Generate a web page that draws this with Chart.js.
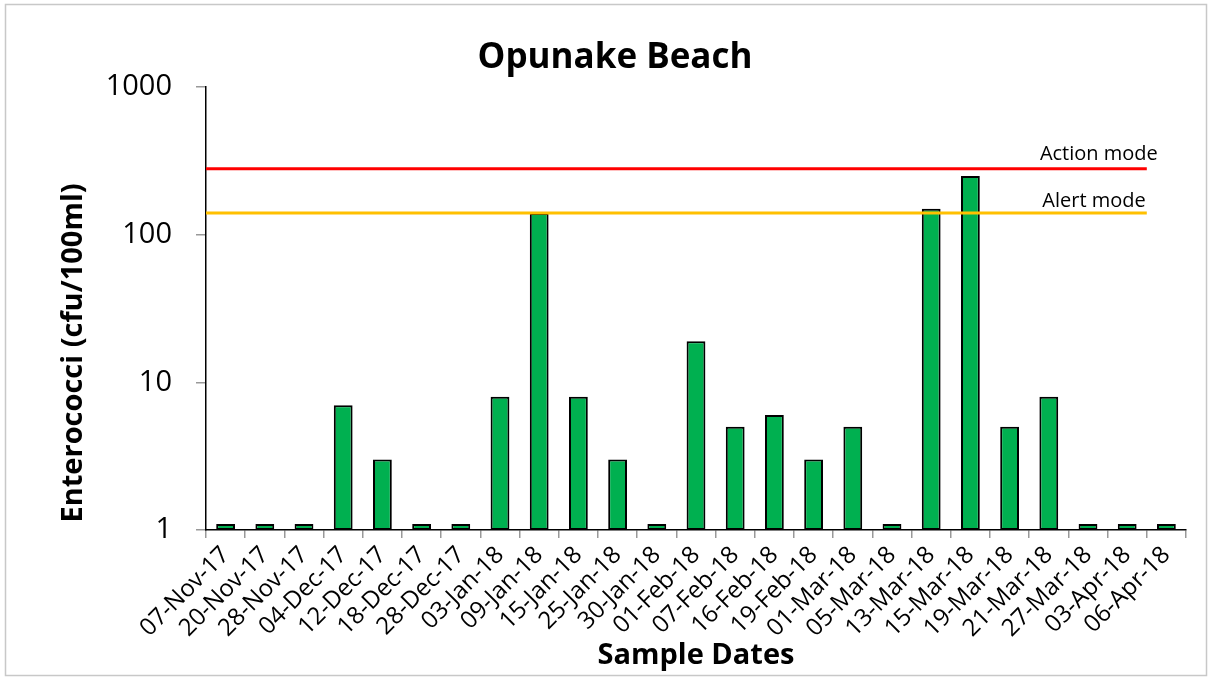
<!DOCTYPE html>
<html><head><meta charset="utf-8">
<script src="https://cdn.jsdelivr.net/npm/chart.js@4.4.1/dist/chart.umd.min.js"></script>
<style>html,body{margin:0;padding:0;background:#fff;} #wrap{position:relative;width:1212px;height:678px;}</style>
</head><body><div id="wrap"><canvas id="c" width="1212" height="678"></canvas></div>
<script>
const categories = ['07-Nov-17','20-Nov-17','28-Nov-17','04-Dec-17','12-Dec-17','18-Dec-17','28-Dec-17','03-Jan-18','09-Jan-18','15-Jan-18','25-Jan-18','30-Jan-18','01-Feb-18','07-Feb-18','16-Feb-18','19-Feb-18','01-Mar-18','05-Mar-18','13-Mar-18','15-Mar-18','19-Mar-18','21-Mar-18','27-Mar-18','03-Apr-18','06-Apr-18'];
const enterococci = [1.1,1.1,1.1,7,3,1.1,1.1,8,140,8,3,1.1,19,5,6,3,5,1.1,150,250,5,8,1.1,1.1,1.1];
const yTickValues = [1,10,100,1000];
const thresholdValues = [280,140];
const thresholdNames = ['Action mode','Alert mode'];

const FONT = '"Open Sans", "Noto Sans", sans-serif';
const thresholdStyle = {colors:['#FF0000','#FFC000'], labelDx:[11,-1], labelDy:[-14,-12]};

const extras = {
  id:'extras',
  beforeDraw(chart){
    const ctx = chart.ctx;
    ctx.save(); ctx.fillStyle='#fff'; ctx.fillRect(0,0,chart.width,chart.height); ctx.restore();
  },
  afterDatasetsDraw(chart){
    const ctx = chart.ctx, xs = chart.scales.x, ys = chart.scales.y;
    const n = categories.length;
    const left = chart.chartArea.left;
    const right = (xs.getPixelForValue(n-2)+xs.getPixelForValue(n-1))/2;
    ctx.save();
    thresholdValues.forEach((v,i)=>{
      const py = ys.getPixelForValue(v);
      ctx.strokeStyle = thresholdStyle.colors[i];
      ctx.lineWidth = 3;
      ctx.beginPath(); ctx.moveTo(left,py); ctx.lineTo(right,py); ctx.stroke();
      ctx.fillStyle = '#000';
      ctx.font = '20px ' + FONT;
      ctx.textAlign = 'right'; ctx.textBaseline = 'middle';
      ctx.fillText(thresholdNames[i], right + thresholdStyle.labelDx[i], py + thresholdStyle.labelDy[i]);
    });
    ctx.restore();
  },
  afterDraw(chart){
    const ctx = chart.ctx;
    ctx.save();
    ctx.strokeStyle = '#c8c8c8'; ctx.lineWidth = 1.5;
    ctx.strokeRect(5.5,4.5,1201,671);
    ctx.translate(74,353); ctx.rotate(-Math.PI/2);
    ctx.fillStyle = '#000'; ctx.font = 'bold 29px ' + FONT;
    ctx.textAlign='center'; ctx.textBaseline='middle';
    ctx.fillText('Enterococci (cfu/100ml)',0,0);
    ctx.restore();
  }
};

new Chart(document.getElementById('c'), {
  type:'bar',
  data:{
    labels: categories,
    datasets:[{
      data: enterococci,
      backgroundColor:'#00B050',
      borderColor:'#000',
      borderWidth:2,
      borderSkipped:false,
      barPercentage:0.48,
      categoryPercentage:1
    }]
  },
  options:{
    responsive:false,
    animation:false,
    devicePixelRatio:1,
    layout:{padding:{left:44,right:26,top:0,bottom:0}},
    plugins:{
      legend:{display:false},
      tooltip:{enabled:false},
      title:{display:true,text:'Opunake Beach',color:'#000',font:{family:FONT,size:35,weight:'bold',lineHeight:1.2},padding:{top:37,bottom:8}}
    },
    scales:{
      x:{
        grid:{display:true,drawOnChartArea:false,offset:true,tickLength:8,color:'#999',lineWidth:1.5},
        border:{color:'#000',width:1.5},
        ticks:{color:'#000',font:{family:FONT,size:24},minRotation:45,maxRotation:45,padding:3,autoSkip:false},
        title:{display:true,text:'Sample Dates',color:'#000',font:{family:FONT,size:29,weight:'bold',lineHeight:1.2},padding:{top:0,bottom:5}},
        afterFit(s){ s.height = 148; }
      },
      y:{
        type:'logarithmic',
        min:1,max:1000,
        grid:{display:true,drawOnChartArea:false,tickLength:10,color:'#999',lineWidth:1.5},
        border:{color:'#000',width:1.5},
        ticks:{color:'#000',font:{family:FONT,size:29},padding:24,callback:(v)=>String(v)},
        afterBuildTicks(s){ s.ticks = yTickValues.map(v=>({value:v})); },
        afterFit(s){ s.width = 162; }
      }
    }
  },
  plugins:[extras]
});
</script></body></html>
